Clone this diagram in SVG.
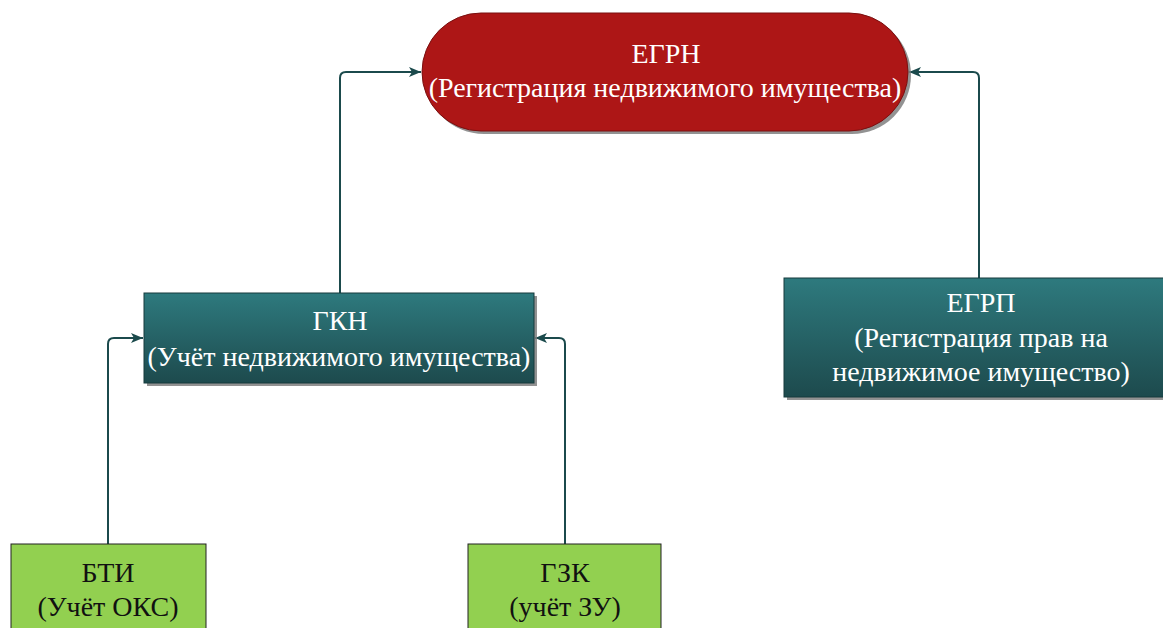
<svg xmlns="http://www.w3.org/2000/svg" width="1163" height="628" viewBox="0 0 1163 628">
<style>
.t{font-family:"Liberation Serif","Times New Roman",serif;font-size:28px;fill:#ffffff;text-anchor:middle}
.d{font-family:"Liberation Serif","Times New Roman",serif;font-size:28px;fill:#111111;text-anchor:middle}
.c{fill:none;stroke:#1b4a4c;stroke-width:2}
.sh{fill:#7f7f7f;opacity:0.85}
</style>
<defs>
<linearGradient id="teal" x1="0" y1="0" x2="0" y2="1">
<stop offset="0" stop-color="#2e7a7e"/>
<stop offset="1" stop-color="#1d4a4d"/>
</linearGradient>
<marker id="ah" viewBox="0 0 12 10" refX="12" refY="5" markerWidth="12" markerHeight="10" markerUnits="userSpaceOnUse" orient="auto">
<path d="M0,0 L12,5 L0,10 L3,5 Z" fill="#1b4a4c"/>
</marker>
</defs>
<rect width="1163" height="628" fill="#ffffff"/>
<g id="connectors">
<path class="c" d="M340,293 V78 Q340,72 346,72 H421" marker-end="url(#ah)"/>
<path class="c" d="M979,278 V78 Q979,72 973,72 H909" marker-end="url(#ah)"/>
<path class="c" d="M108,544 V344 Q108,338 114,338 H143" marker-end="url(#ah)"/>
<path class="c" d="M565,544 V344 Q565,338 559,338 H535" marker-end="url(#ah)"/>
</g>
<g id="egrn">
<rect class="sh" x="425" y="16" width="486" height="118" rx="59"/>
<rect x="422" y="13" width="486" height="118" rx="59" fill="#ad1616" stroke="#7a1010" stroke-width="1"/>
<text class="t" x="666" y="63">ЕГРН</text>
<text class="t" x="665" y="97">(Регистрация недвижимого имущества)</text>
</g>
<g id="gkn">
<rect class="sh" x="147" y="296" width="390" height="90"/>
<rect x="144" y="293" width="390" height="90" fill="url(#teal)" stroke="#163b3d" stroke-width="1"/>
<text class="t" x="340" y="330">ГКН</text>
<text class="t" x="339" y="366">(Учёт недвижимого имущества)</text>
</g>
<g id="egrp">
<rect class="sh" x="787" y="281" width="380" height="119"/>
<rect x="784" y="278" width="382" height="119" fill="url(#teal)" stroke="#163b3d" stroke-width="1"/>
<text class="t" x="981" y="312">ЕГРП</text>
<text class="t" x="981" y="347">(Регистрация прав на</text>
<text class="t" x="981" y="381">недвижимое имущество)</text>
</g>
<g id="bti">
<rect x="11" y="544" width="195" height="90" fill="#92d050" stroke="#222222" stroke-width="1"/>
<text class="d" x="108" y="582">БТИ</text>
<text class="d" x="108" y="616">(Учёт ОКС)</text>
</g>
<g id="gzk">
<rect x="468" y="544" width="193" height="90" fill="#92d050" stroke="#222222" stroke-width="1"/>
<text class="d" x="565" y="582">ГЗК</text>
<text class="d" x="565" y="616">(учёт ЗУ)</text>
</g>
</svg>
